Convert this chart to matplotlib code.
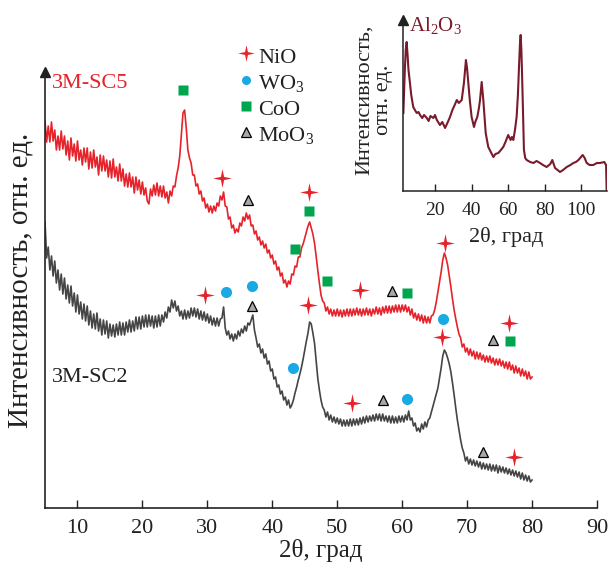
import numpy as np
import matplotlib
matplotlib.use("Agg")
import matplotlib.pyplot as plt

plt.rcParams['font.family'] = ['Liberation Serif', 'DejaVu Serif']
plt.rcParams['mathtext.fontset'] = 'custom'
plt.rcParams['mathtext.rm'] = 'Liberation Serif'
plt.rcParams['mathtext.it'] = 'Liberation Serif:italic'

# ---------------- data ----------------
two_theta = np.arange(5.0, 80.001, 0.25)

# 3M-SC5, one row per degree (5.00, 5.25, 5.50, 5.75), ...
sc5 = [387, 366, 382, 366,  386, 367, 378, 358,  372, 358, 377, 359,
       372, 353, 367, 348,  370, 352, 364, 347,  367, 348, 358, 343,
       360, 346, 360, 339,  356, 340, 358, 341,  351, 333, 353, 337,
       352, 337, 348, 331,  347, 330, 349, 331,  341, 327, 344, 327,
       339, 322, 334, 321,  335, 321, 331, 315,  331, 318, 328, 314,
       326, 313, 320, 307,  304, 319, 312, 323,  313, 325, 312, 322,
       311, 322, 310, 316,  305, 317, 312, 322,  321, 332, 340, 352,
       373, 395, 398, 380,  358, 350, 345, 333,  333, 322, 324, 314,
       317, 307, 310, 300,  304, 296, 302, 295,  302, 297, 305, 302,
       312, 308, 316, 302,  301, 289, 291, 280,  283, 275, 279, 276,
       285, 282, 291, 287,  295, 289, 293, 282,  283, 274, 277, 268,
       271, 263, 267, 260,  264, 255, 258, 250,  253, 244, 247, 238,
       241, 232, 235, 225,  228, 221, 227, 224,  234, 233, 242, 241,
       251, 251, 260, 264,  270, 276, 282, 286,  280, 274, 265, 252,
       238, 225, 213, 207,  205, 197, 201, 194,  199, 192, 198, 192,
       199, 192, 198, 191,  198, 192, 199, 192,  199, 192, 199, 193,
       200, 193, 199, 192,  199, 193, 200, 193,  199, 192, 199, 194,
       201, 194, 200, 193,  201, 195, 202, 195,  202, 195, 202, 196,
       203, 196, 203, 196,  203, 197, 203, 196,  201, 193, 199, 190,
       195, 188, 194, 187,  193, 185, 192, 185,  191, 185, 192, 193,
       198, 206, 216, 226,  236, 248, 255, 250,  243, 232, 221, 209,
       198, 189, 181, 174,  170, 161, 164, 156,  160, 153, 159, 152,
       157, 149, 156, 149,  155, 148, 153, 146,  152, 146, 152, 145,
       150, 143, 149, 143,  149, 142, 147, 140,  146, 139, 146, 138,
       143, 135, 142, 135,  140, 132, 139, 132,  137, 129, 136, 129,
       131]

# 3M-SC2
sc2 = [286, 250, 261, 238,  252, 232, 247, 225,  238, 218, 234, 214,
       230, 209, 223, 205,  222, 202, 215, 196,  213, 194, 206, 189,
       204, 187, 202, 183,  197, 180, 194, 179,  195, 177, 189, 173,
       188, 174, 187, 170,  184, 172, 183, 171,  184, 173, 186, 173,
       185, 173, 186, 176,  188, 176, 187, 177,  191, 179, 191, 179,
       192, 181, 193, 181,  193, 182, 192, 180,  192, 181, 193, 182,
       193, 186, 196, 190,  201, 196, 208, 200,  207, 197, 202, 192,
       197, 189, 198, 189,  197, 190, 200, 192,  200, 191, 199, 189,
       197, 188, 196, 187,  194, 185, 192, 183,  190, 182, 190, 182,
       189, 190, 201, 180,  173, 177, 169, 174,  167, 174, 169, 177,
       172, 179, 175, 182,  177, 185, 183, 188,  193, 178, 170, 161,
       164, 155, 159, 150,  154, 144, 147, 137,  139, 129, 131, 121,
       123, 114, 117, 108,  111, 103, 108, 100,  103, 108, 115, 121,
       128, 134, 141, 149,  158, 167, 175, 186,  184, 175, 165, 148,
       130, 118, 108, 101,  98, 91, 96, 88,  93, 86, 91, 85,
       90, 84, 89, 82,  88, 82, 88, 82,  89, 82, 89, 83,
       89, 83, 90, 84,  91, 85, 92, 86,  92, 87, 93, 87,
       94, 88, 94, 87,  94, 87, 92, 86,  92, 85, 92, 85,
       91, 85, 92, 86,  92, 86, 93, 88,  97, 88, 90, 82,
       85, 77, 80, 76,  84, 79, 86, 81,  88, 90, 96, 102,
       108, 114, 120, 130,  140, 152, 158, 155,  150, 144, 136, 125,
       113, 100, 88, 78,  68, 60, 55, 47,  51, 44, 49, 43,
       48, 42, 47, 41,  46, 39, 45, 39,  44, 38, 44, 37,
       43, 37, 43, 35,  42, 36, 41, 35,  40, 34, 39, 33,
       38, 32, 37, 31,  36, 29, 35, 28,  33, 27, 32, 26,
       28]

nio_x = [32.3, 45.7, 53.5, 66.6, 76.5, 29.7, 45.5, 52.3, 66.2, 77.2]
nio_y = [330, 316, 218, 265, 185, 213, 203, 105, 171, 51]
wo3_x = [32.8, 36.9, 43.2, 60.8, 66.3]
wo3_y = [216, 222, 140, 109, 189]
coo_x = [26.3, 45.7, 43.5, 48.5, 60.8, 76.6]
coo_y = [418, 297, 259, 227, 215, 167]
moo3_x = [36.2, 36.9, 58.5, 57.1, 74.0, 72.5]
moo3_y = [308, 202, 217, 108, 168, 56]

al_x = [2.7, 3.5, 4.0, 4.5, 5.0, 5.5, 6.3, 7.0, 8.1, 9.0,
        10.0, 11.0, 11.8, 13.0, 14.0, 15.5, 16.5, 17.5, 19.1, 20.0,
        21.0, 22.7, 24.0, 25.5, 27.0, 28.2, 29.5, 31.0, 31.9, 33.0,
        34.6, 35.8, 36.9, 37.5, 38.2, 39.0, 40.0, 41.3, 42.0, 43.1,
        44.0, 44.6, 45.5, 46.4, 47.7, 49.1, 50.5, 51.9, 53.0, 54.6,
        56.0, 57.3, 58.5, 60.0, 61.3, 62.0, 62.8, 63.7, 64.6, 65.3,
        65.9, 66.4, 66.8, 67.2, 67.7, 68.2, 68.6, 69.3, 70.1, 72.0,
        73.8, 75.5, 77.4, 79.0, 81.0, 83.0, 84.1, 85.6, 87.0, 88.3,
        90.0, 92.0, 94.0, 95.6, 97.0, 98.4, 100.7, 101.8, 102.9, 104.5,
        106.5, 108.5, 110.2, 112.5, 113.5, 113.8]
al_y = [78, 121, 141, 149, 136, 121, 108, 96, 84, 81,
        78, 79, 76, 73, 76, 73, 70, 75, 73, 76,
        71, 66, 69, 63, 69, 74, 81, 87, 91, 88,
        91, 108, 131, 123, 108, 91, 74, 64, 69, 74,
        83, 91, 109, 91, 58, 44, 39, 34, 37, 38,
        41, 44, 49, 56, 51, 54, 51, 61, 74, 96,
        124, 146, 156, 141, 108, 71, 41, 33, 31, 29,
        28, 30, 28, 26, 24, 27, 31, 23, 21, 19,
        21, 24, 26, 28, 29, 31, 36, 33, 28, 26,
        26, 28, 28, 29, 26, 1]

x_ticks = [10, 20, 30, 40, 50, 60, 70, 80, 90]
inset_ticks = [20, 40, 60, 80, 100]

# ---------------- style ----------------
RED = '#e5232b'
GRAY = '#454545'
DARKRED = '#7a1b2b'
BLUE = '#19a9e5'
GREEN = '#00a54f'
TRI = '#a8a8a8'
STAR = [(0, 1), (0.17, 0.17), (1, 0), (0.17, -0.17), (0, -1),
        (-0.17, -0.17), (-1, 0), (-0.17, 0.17), (0, 1)]

W, H = 610, 574
fig = plt.figure(figsize=(W / 100, H / 100), dpi=100)

def fx(px):
    return px / W

def fy(py):
    return 1 - py / H

# ---------------- main axes ----------------
ax = fig.add_axes([fx(45), fy(508), fx(597) - fx(45), fy(72) - fy(508)])
ax.plot(two_theta, sc5, color=RED, lw=1.2, zorder=2)
ax.plot(two_theta, sc2, color=GRAY, lw=1.2, zorder=2)
ax.plot(nio_x, nio_y, ls='none', marker=STAR, ms=13.5, color=RED, mec='none', zorder=4)
ax.plot(wo3_x, wo3_y, ls='none', marker='o', ms=8, color=BLUE, mec='none', zorder=4)
ax.plot(coo_x, coo_y, ls='none', marker='s', ms=7.5, color=GREEN, mec='none', zorder=4)
ax.plot(moo3_x, moo3_y, ls='none', marker='^', ms=7.5, mfc=TRI, mec='black', mew=0.9, zorder=4)
ax.set_xlim(5, 90)
ax.set_ylim(0, 436)
ax.set_xticks(x_ticks)
ax.set_yticks([])
ax.tick_params(axis='x', direction='in', length=6, width=1.0, labelsize=16, pad=8, colors='#222222')
for s in ['top', 'right']:
    ax.spines[s].set_visible(False)
for s in ['left', 'bottom']:
    ax.spines[s].set_linewidth(1.2)
    ax.spines[s].set_color('#222222')
ax.plot([0], [1], marker='^', ms=7, color='#222222', transform=ax.transAxes, clip_on=False)
ax.text(0.012, 0.963, '3M-SC5', transform=ax.transAxes, color=RED, fontsize=16, ha='left', va='baseline')
ax.text(0.012, 0.289, '3M-SC2', transform=ax.transAxes, color='#222222', fontsize=16, ha='left', va='baseline')

fig.text(fx(21), fy(280), 'Интенсивность, отн. ед.', rotation=90, ha='center', va='center',
         fontsize=21, color='#222222')
fig.text(fx(321), fy(550), '2θ, град', ha='center', va='center', fontsize=18, color='#222222')

# legend (manual)
leg = [(STAR, 12, RED, 'none', 'NiO', 53, 63),
       ('o', 6.5, BLUE, 'none', r'WO$_\mathregular{3}$', 80, 89),
       ('s', 6.5, GREEN, 'none', 'CoO', 106, 115),
       ('^', 7, TRI, 'black', r'MoO$_\mathregular{3}$', 132, 141)]
for m, ms, c, ec, lab, ym, yt in leg:
    fig.lines.append(plt.Line2D([fx(246)], [fy(ym)], marker=m, ms=ms, color=c, mfc=c,
                                mec=ec, mew=0.9, ls='none', transform=fig.transFigure))
    fig.text(fx(258), fy(yt), lab, fontsize=16, ha='left', va='baseline', color='#222222')

# ---------------- inset ----------------
ax2 = fig.add_axes([fx(403), fy(191), fx(607) - fx(403), fy(20) - fy(191)])
ax2.plot(al_x, al_y, color=DARKRED, lw=1.5)
ax2.set_xlim(2.5, 114)
ax2.set_ylim(0, 171)
ax2.set_xticks(inset_ticks)
ax2.set_yticks([])
ax2.tick_params(axis='x', direction='in', length=5, width=1.0, labelsize=14, pad=8, colors='#222222')
for s in ['top', 'right']:
    ax2.spines[s].set_visible(False)
for s in ['left', 'bottom']:
    ax2.spines[s].set_linewidth(1.1)
    ax2.spines[s].set_color('#222222')
ax2.patch.set_alpha(0)
ax2.plot([0], [1], marker='^', ms=6.5, color='#222222', transform=ax2.transAxes, clip_on=False)
fig.text(fx(409), fy(25), r'Al$_\mathregular{2}$O$_\mathregular{3}$', color=DARKRED, fontsize=15,
         ha='left', va='center')
fig.text(fx(374), fy(100), 'Интенсивность,\nотн. ед.', rotation=90, ha='center', va='center',
         fontsize=16, linespacing=1.0, color='#222222', multialignment='center')
fig.text(fx(506), fy(237), '2θ, град', ha='center', va='center', fontsize=16, color='#222222')

fig.savefig('out.png', dpi=100)
